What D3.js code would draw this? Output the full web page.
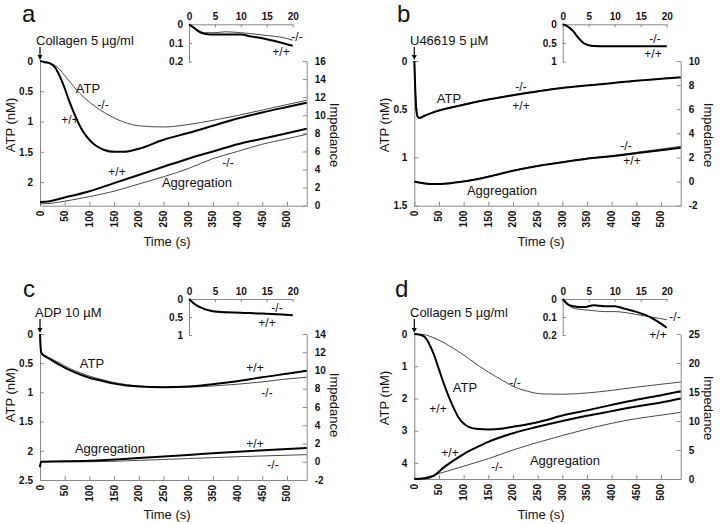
<!DOCTYPE html>
<html>
<head>
<meta charset="utf-8">
<script src="https://cdn.jsdelivr.net/npm/d3@7"></script>
<style>
body { margin: 0; background: #fff; }
text { font-family: "Liberation Sans", Arial, sans-serif; fill: #111; }
.tick text, .xlab { font-weight: bold; font-size: 10px; }
.domain, .tick line { stroke: #888; }
</style>
</head>
<body>
<script>
// ---- panel a : collagen ----
var aAtpT = [0, 10, 20, 30, 40, 50, 60, 70, 80, 90, 100, 110, 120, 130, 150, 170, 200, 250, 300, 350, 400, 450, 500, 540]
var aAtpWT = [0, 0.02, 0.04, 0.1, 0.25, 0.45, 0.68, 0.88, 1.06, 1.2, 1.3, 1.38, 1.43, 1.47, 1.5, 1.5, 1.45, 1.3, 1.19, 1.07, 0.95, 0.85, 0.76, 0.69]
var aAtpKO = [0, 0.01, 0.03, 0.07, 0.14, 0.24, 0.34, 0.44, 0.53, 0.61, 0.68, 0.74, 0.8, 0.85, 0.94, 1.01, 1.07, 1.09, 1.05, 0.98, 0.9, 0.81, 0.72, 0.65]
var aAggT = [0, 20, 50, 100, 150, 200, 250, 300, 350, 400, 450, 500, 540]
var aAggWT = [0.4, 0.5, 0.9, 1.6, 2.5, 3.4, 4.3, 5.2, 6.0, 6.8, 7.4, 8.0, 8.5]
var aAggKO = [0.2, 0.25, 0.5, 1.0, 1.6, 2.4, 3.2, 4.1, 5.2, 6.0, 6.8, 7.4, 7.9]
var aInsT = [0, 1, 2, 3, 5, 7, 10, 12, 15, 18, 20]
var aInsWT = [0, 0.02, 0.04, 0.05, 0.055, 0.055, 0.055, 0.065, 0.08, 0.1, 0.115]
var aInsKO = [0, 0.02, 0.035, 0.045, 0.045, 0.04, 0.045, 0.05, 0.06, 0.07, 0.085]

// ---- panel b : U46619 ----
var bAtpT = [0, 2, 4, 7, 10, 20, 40, 60, 90, 120, 150, 200, 250, 300, 350, 400, 450, 500, 540]
var bAtpWT = [0, 0.3, 0.5, 0.58, 0.59, 0.57, 0.53, 0.5, 0.465, 0.43, 0.4, 0.355, 0.315, 0.28, 0.255, 0.23, 0.205, 0.185, 0.17]
var bAtpKO = [0, 0.28, 0.48, 0.57, 0.585, 0.565, 0.525, 0.495, 0.46, 0.425, 0.395, 0.35, 0.31, 0.278, 0.252, 0.228, 0.204, 0.184, 0.168]
var bAggT = [0, 20, 40, 70, 100, 150, 200, 250, 300, 350, 400, 450, 500, 540]
var bAggWT = [0, -0.15, -0.2, -0.15, 0, 0.4, 0.9, 1.3, 1.6, 1.9, 2.1, 2.35, 2.6, 2.8]
var bAggKO = [0, -0.12, -0.18, -0.12, 0.03, 0.43, 0.92, 1.32, 1.63, 1.93, 2.15, 2.42, 2.7, 2.92]
var bInsT = [0, 1, 2, 3, 4, 5, 6, 8, 20]
var bInsWT = [0, 0.06, 0.18, 0.36, 0.5, 0.56, 0.58, 0.59, 0.59]
var bInsKO = [0, 0.06, 0.18, 0.36, 0.5, 0.56, 0.58, 0.59, 0.59]

// ---- panel c : ADP ----
var cAtpT = [0, 2, 5, 10, 20, 40, 60, 80, 100, 125, 150, 200, 250, 300, 350, 400, 450, 500, 540]
var cAtpWT = [0, 0.3, 0.35, 0.38, 0.43, 0.53, 0.62, 0.69, 0.75, 0.8, 0.85, 0.9, 0.91, 0.9, 0.86, 0.81, 0.74, 0.68, 0.63]
var cAtpKO = [0, 0.3, 0.34, 0.37, 0.41, 0.5, 0.59, 0.66, 0.72, 0.78, 0.83, 0.89, 0.91, 0.91, 0.89, 0.86, 0.82, 0.77, 0.74]
var cAggT = [0, 2, 100, 200, 300, 400, 540]
var cAggWT = [-0.6, 0, 0.1, 0.4, 0.75, 1.1, 1.5]
var cAggKO = [-0.6, 0, 0, 0.15, 0.35, 0.55, 0.78]
var cInsT = [0, 1, 2, 3, 4, 5, 7, 10, 13, 15, 18, 20]
var cInsWT = [0, 0.13, 0.22, 0.28, 0.32, 0.35, 0.37, 0.38, 0.4, 0.41, 0.43, 0.45]
var cInsKO = [0, 0.13, 0.22, 0.28, 0.32, 0.35, 0.37, 0.38, 0.4, 0.41, 0.43, 0.45]

// ---- panel d : collagen ----
var dAtpT = [0, 10, 20, 30, 40, 50, 60, 70, 80, 90, 100, 110, 130, 150, 180, 200, 230, 260, 300, 350, 400, 450, 500, 540]
var dAtpWT = [0, 0.02, 0.08, 0.3, 0.65, 1.1, 1.55, 1.95, 2.3, 2.6, 2.78, 2.88, 2.95, 2.96, 2.93, 2.88, 2.8, 2.7, 2.53, 2.37, 2.2, 2.04, 1.9, 1.78]
var dAtpKO = [0, 0.01, 0.02, 0.06, 0.12, 0.19, 0.27, 0.36, 0.45, 0.55, 0.65, 0.76, 0.98, 1.18, 1.45, 1.62, 1.78, 1.86, 1.87, 1.83, 1.75, 1.65, 1.56, 1.49]
var dAggT = [0, 20, 40, 60, 80, 100, 125, 150, 200, 250, 300, 350, 400, 450, 500, 540]
var dAggWT = [0, 0.1, 0.6, 2.0, 3.2, 4.3, 5.4, 6.4, 7.9, 9.0, 10.0, 10.9, 11.7, 12.5, 13.2, 13.9]
var dAggKO = [0, 0.2, 0.7, 1.2, 1.7, 2.2, 2.85, 3.5, 5.0, 6.3, 7.5, 8.6, 9.6, 10.4, 11.0, 11.5]
var dInsT = [0, 1, 2, 4, 6, 8, 10, 12, 14, 16, 18, 20]
var dInsWT = [0, 0.03, 0.04, 0.045, 0.035, 0.04, 0.04, 0.055, 0.07, 0.09, 0.12, 0.16]
var dInsKO = [0, 0.03, 0.05, 0.06, 0.065, 0.07, 0.07, 0.075, 0.085, 0.095, 0.105, 0.115]

// tick values
var timeTicks = [0, 50, 100, 150, 200, 250, 300, 350, 400, 450, 500]
var insetTimeTicks = [0, 5, 10, 15, 20]
var aAtpTicks = [0, 0.5, 1, 1.5, 2]
var bAtpTicks = [0, 0.5, 1, 1.5]
var cAtpTicks = [0, 0.5, 1, 1.5, 2, 2.5]
var dAtpTicks = [0, 1, 2, 3, 4]
var aImpTicks = [0, 2, 4, 6, 8, 10, 12, 14, 16]
var bImpTicks = [-2, 0, 2, 4, 6, 8, 10]
var cImpTicks = [-2, 0, 2, 4, 6, 8, 10, 12, 14]
var dImpTicks = [0, 5, 10, 15, 20, 25]
var smallInsTicks = [0, 0.1, 0.2]
var bigInsTicks = [0, 0.5, 1]

var svg = d3.select("body").append("svg")
    .attr("width", 720)
    .attr("height", 524)

// plain number labels, hyphen for negatives like the original
var fmt = function(d) { return String(d) }

// panel layout and the arrays each one uses
var panels = [
    {
        letter: "a", lx: 22, ly: 22, agonist: "Collagen 5 \u00b5g/ml", ax: 36, ay: 45,
        x0: 40, x1: 306.7, y0: 61, y1: 205.7, atpMax: 2.39, atpTicks: aAtpTicks,
        imp: [0, 16], impTicks: aImpTicks,
        atpT: aAtpT, atpWT: aAtpWT, atpKO: aAtpKO, aggT: aAggT, aggWT: aAggWT, aggKO: aAggKO,
        ins: { x0: 189, x1: 292.7, y0: 24.3, y1: 61.7, max: 0.2, ticks: smallInsTicks, t: aInsT, wt: aInsWT, ko: aInsKO,
               ko_l: [297, 41], wt_l: [281, 56] },
        labels: [["ATP", 88, 93, 13], ["-/-", 103, 109, 12], ["+/+", 70, 124, 12],
                 ["+/+", 117, 176, 12], ["-/-", 228, 167, 12], ["Aggregation", 197, 187, 13]],
        titleY: 125, timeX: 167, timeY: 246
    },
    {
        letter: "b", lx: 397, ly: 22, agonist: "U46619 5 \u00b5M", ax: 410, ay: 45,
        x0: 414.3, x1: 680.7, y0: 61, y1: 205.7, atpMax: 1.5, atpTicks: bAtpTicks,
        imp: [-2, 10], impTicks: bImpTicks,
        atpT: bAtpT, atpWT: bAtpWT, atpKO: bAtpKO, aggT: bAggT, aggWT: bAggWT, aggKO: bAggKO,
        ins: { x0: 562.7, x1: 666.7, y0: 24.3, y1: 61.7, max: 1, ticks: bigInsTicks, t: bInsT, wt: bInsWT, ko: bInsKO,
               ko_l: [655, 43], wt_l: [653, 58] },
        labels: [["ATP", 449, 103, 13], ["-/-", 521, 91, 12], ["+/+", 521, 110, 12],
                 ["-/-", 626, 150, 12], ["+/+", 632, 165, 12], ["Aggregation", 502, 195, 13]],
        titleY: 125, timeX: 541, timeY: 246
    },
    {
        letter: "c", lx: 23, ly: 297, agonist: "ADP 10 \u00b5M", ax: 35, ay: 317,
        x0: 40, x1: 306.7, y0: 334, y1: 480, atpMax: 2.5, atpTicks: cAtpTicks,
        imp: [-2, 14], impTicks: cImpTicks,
        atpT: cAtpT, atpWT: cAtpWT, atpKO: cAtpKO, aggT: cAggT, aggWT: cAggWT, aggKO: cAggKO,
        ins: { x0: 189, x1: 292.7, y0: 299, y1: 335, max: 1, ticks: bigInsTicks, t: cInsT, wt: cInsWT, ko: cInsKO,
               ko_l: [277, 312], wt_l: [267, 327] },
        labels: [["ATP", 92, 368, 13], ["+/+", 255, 372, 12], ["-/-", 267, 397, 12],
                 ["Aggregation", 110, 453, 13], ["+/+", 255, 448, 12], ["-/-", 273, 469, 12]],
        titleY: 395, timeX: 167, timeY: 519
    },
    {
        letter: "d", lx: 395, ly: 297, agonist: "Collagen 5 \u00b5g/ml", ax: 410, ay: 317,
        x0: 414.3, x1: 680.7, y0: 334, y1: 479, atpMax: 4.5, atpTicks: dAtpTicks,
        imp: [0, 25], impTicks: dImpTicks,
        atpT: dAtpT, atpWT: dAtpWT, atpKO: dAtpKO, aggT: dAggT, aggWT: dAggWT, aggKO: dAggKO,
        ins: { x0: 562.7, x1: 666.7, y0: 299, y1: 335, max: 0.2, ticks: smallInsTicks, t: dInsT, wt: dInsWT, ko: dInsKO,
               ko_l: [675, 321], wt_l: [658, 339] },
        labels: [["ATP", 465, 392, 13], ["-/-", 515, 387, 12], ["+/+", 438, 413, 12],
                 ["+/+", 450, 457, 12], ["Aggregation", 565, 465, 13], ["-/-", 497, 471, 12]],
        titleY: 398, timeX: 541, timeY: 519
    }
]

function drawLine(g, t, v, x, y, thick) {
    var line = d3.line()
        .x(function(d) { return x(d[0]) })
        .y(function(d) { return y(d[1]) })
        .curve(d3.curveMonotoneX)
    g.append("path")
        .datum(d3.zip(t, v))
        .attr("fill", "none")
        .attr("stroke", thick ? "#000" : "#333")
        .attr("stroke-width", thick ? 2 : 0.9)
        .attr("d", line)
}

function drawPanel(p) {
    var g = svg.append("g")

    var x = d3.scaleLinear().domain([0, 540]).range([p.x0, p.x1])
    var yL = d3.scaleLinear().domain([0, p.atpMax]).range([p.y0, p.y1])
    var yR = d3.scaleLinear().domain(p.imp).range([p.y1, p.y0])

    // axes (ticks point inward)
    g.append("g")
        .attr("transform", "translate(0," + p.y1 + ")")
        .call(d3.axisBottom(x).tickValues(timeTicks).tickSize(-4).tickSizeOuter(0).tickFormat(function() { return "" }))

    // rotated time labels
    g.selectAll(".xlab")
        .data(timeTicks)
        .enter().append("text")
        .attr("class", "xlab")
        .attr("transform", function(d) { return "translate(" + x(d) + "," + (p.y1 + 5) + ") rotate(-90)" })
        .attr("text-anchor", "end")
        .attr("dy", "0.35em")
        .text(fmt)

    g.append("g")
        .attr("transform", "translate(" + p.x0 + ",0)")
        .call(d3.axisLeft(yL).tickValues(p.atpTicks).tickSize(-4).tickSizeOuter(0).tickPadding(7).tickFormat(fmt))

    g.append("g")
        .attr("transform", "translate(" + p.x1 + ",0)")
        .call(d3.axisRight(yR).tickValues(p.impTicks).tickSize(-4).tickSizeOuter(0).tickPadding(8).tickFormat(fmt))

    // curves
    drawLine(g, p.atpT, p.atpKO, x, yL, false)
    drawLine(g, p.atpT, p.atpWT, x, yL, true)
    drawLine(g, p.aggT, p.aggKO, x, yR, false)
    drawLine(g, p.aggT, p.aggWT, x, yR, true)

    // axis titles
    g.append("text")
        .attr("transform", "translate(" + (p.x0 - 30) + "," + p.titleY + ") rotate(-90)")
        .attr("text-anchor", "middle")
        .attr("dy", "0.35em")
        .style("font-size", "13px")
        .text("ATP (nM)")
    g.append("text")
        .attr("transform", "translate(" + (p.x1 + 28) + "," + (p.titleY + 10) + ") rotate(90)")
        .attr("text-anchor", "middle")
        .attr("dy", "0.35em")
        .style("font-size", "13px")
        .text("Impedance")
    g.append("text")
        .attr("x", p.timeX)
        .attr("y", p.timeY)
        .attr("text-anchor", "middle")
        .style("font-size", "13px")
        .text("Time (s)")

    // panel letter and agonist arrow
    g.append("text")
        .attr("x", p.lx)
        .attr("y", p.ly)
        .style("font-size", "24px")
        .text(p.letter)
    g.append("text")
        .attr("x", p.ax)
        .attr("y", p.ay)
        .style("font-size", "13px")
        .text(p.agonist)
    g.append("line")
        .attr("x1", p.x0).attr("x2", p.x0)
        .attr("y1", p.ay + 2).attr("y2", p.y0 - 4)
        .attr("stroke", "#000").attr("stroke-width", 1.2)
    g.append("path")
        .attr("d", "M" + (p.x0 - 2.5) + "," + (p.y0 - 6) + "L" + (p.x0 + 2.5) + "," + (p.y0 - 6) + "L" + p.x0 + "," + (p.y0 - 1) + "Z")
        .attr("fill", "#000")

    // curve labels
    p.labels.forEach(function(l) {
        g.append("text")
            .attr("x", l[1])
            .attr("y", l[2])
            .attr("text-anchor", "middle")
            .style("font-size", l[3] + "px")
            .text(l[0])
    })

    // inset
    var ins = p.ins
    var xi = d3.scaleLinear().domain([0, 20]).range([ins.x0, ins.x1])
    var yi = d3.scaleLinear().domain([0, ins.max]).range([ins.y0, ins.y1])
    g.append("g")
        .attr("transform", "translate(0," + ins.y0 + ")")
        .call(d3.axisTop(xi).tickValues(insetTimeTicks).tickSize(-3).tickSizeOuter(0).tickPadding(4).tickFormat(fmt))
    g.append("g")
        .attr("transform", "translate(" + ins.x0 + ",0)")
        .call(d3.axisLeft(yi).tickValues(ins.ticks).tickSize(-3).tickSizeOuter(0).tickPadding(6).tickFormat(fmt))
    drawLine(g, ins.t, ins.ko, xi, yi, false)
    drawLine(g, ins.t, ins.wt, xi, yi, true)
    g.append("text").attr("x", ins.ko_l[0]).attr("y", ins.ko_l[1])
        .attr("text-anchor", "middle").style("font-size", "12px").text("-/-")
    g.append("text").attr("x", ins.wt_l[0]).attr("y", ins.wt_l[1])
        .attr("text-anchor", "middle").style("font-size", "12px").text("+/+")
}

panels.forEach(drawPanel)
</script>
</body>
</html>
